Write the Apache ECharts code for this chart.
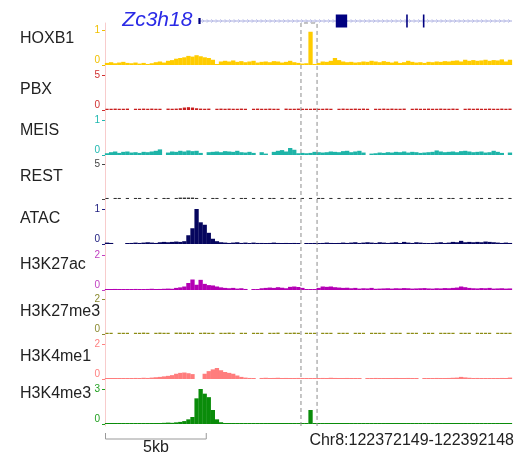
<!DOCTYPE html>
<html><head><meta charset="utf-8">
<script src="https://cdn.jsdelivr.net/npm/echarts@6/dist/echarts.min.js"></script>
<style>html,body{margin:0;padding:0;background:#fff}#c{width:524px;height:454px}</style>
</head><body><div id="c"></div>
<script>
// ---- data ----
const regionStart = 0, regionEnd = 20000, binSize = 200;
const chromLabel = 'Chr8:122372149-122392148';
const scaleBar = [0, 5000];
const scaleLabel = '5kb';
const geneName = 'Zc3h18';
const geneSpan = [4590, 20000];
const exons = [[4590, 4700, 'utr'], [11340, 11900, 'cds'], [14800, 14850, 'cds'], [15620, 15670, 'cds']];
const highlightRegion = [9630, 10420];

const trackNames = ['HOXB1', 'PBX', 'MEIS', 'REST', 'ATAC', 'H3K27ac', 'H3K27me3', 'H3K4me1', 'H3K4me3'];
const trackMax = [1, 5, 1, 5, 1, 2, 2, 2, 3];

const hoxb1 = [0.06,0.08,0.05,0.07,0.09,0.06,0.05,0.07,0.04,0.06,
  0.03,0.05,0.08,0.1,0.07,0.12,0.14,0.18,0.2,0.22,
  0.26,0.24,0.28,0.25,0.22,0.2,0.15,0.02,0.1,0.12,
  0.1,0.13,0.09,0.11,0.08,0.1,0.12,0.07,0.09,0.1,
  0.08,0.11,0.1,0.07,0.09,0.12,0.08,0.06,0.04,0.05,
  0.95,0.03,0.06,0.1,0.09,0.12,0.2,0.14,0.1,0.08,
  0.09,0.07,0.08,0.1,0.09,0.12,0.1,0.08,0.11,0.09,
  0.07,0.1,0.06,0.08,0.12,0.09,0.07,0.08,0.06,0.09,
  0.08,0.1,0.09,0.11,0.1,0.12,0.13,0.1,0.15,0.12,
  0.14,0.12,0.13,0.15,0.12,0.14,0.13,0.16,0.1,0.15];
const pbx = [0.18,0.18,0.2,0.18,0.18,0.2,null,0.18,0.18,0.2,
  0.18,0.2,0.18,0.18,null,0.2,0.18,0.2,0.25,0.35,
  0.4,0.35,0.25,0.2,0.18,0.2,null,0.18,0.2,0.18,
  0.2,0.18,0.18,0.2,0.18,null,0.18,0.2,0.18,0.18,
  0.2,0.18,0.18,null,0.2,0.18,0.18,0.2,0.18,0.18,
  0.18,0.2,0.18,0.18,0.2,0.18,null,0.18,0.2,0.18,
  0.18,0.2,0.18,0.2,0.18,null,0.18,0.18,0.2,0.18,
  0.2,0.18,0.18,0.2,null,0.18,0.2,0.18,0.18,0.2,
  0.18,0.18,0.2,0.18,0.18,0.2,0.18,null,0.18,0.2,
  0.18,0.2,0.18,0.18,0.2,0.18,0.18,0.2,0.18,0.2];
const meis = [0.05,0.08,0.1,0.06,0.09,0.1,0.07,0.08,0.06,0.09,
  0.08,0.1,0.12,0.16,null,0.07,0.1,0.09,0.12,0.1,
  0.13,0.11,0.12,0.06,null,0.08,0.09,0.1,0.08,0.11,
  0.1,0.09,0.12,0.08,0.07,0.09,0.06,null,0.08,0.04,
  null,0.09,0.12,0.14,0.1,0.2,0.15,0.05,0.06,0.05,
  0.06,0.09,0.08,0.07,0.08,0.1,0.09,0.08,0.11,0.12,
  0.08,0.1,0.12,0.07,null,0.04,0.05,0.07,0.06,0.08,
  0.07,0.09,0.08,0.1,0.07,0.09,0.08,0.06,0.07,0.08,
  0.09,0.13,0.1,0.08,0.09,0.1,0.08,0.11,0.12,0.1,
  0.08,0.09,0.1,0.07,0.08,0.12,0.09,0.06,null,0.07];
const rest = [0.15,null,0.15,0.15,null,0.15,null,0.15,0.15,null,
  0.15,null,0.15,null,0.15,0.15,null,0.15,0.2,0.2,
  0.2,0.2,0.15,null,0.15,null,0.15,0.15,null,0.15,
  null,0.15,null,0.15,0.15,null,0.15,null,0.15,null,
  0.15,0.15,null,0.15,null,0.15,0.15,null,0.15,null,
  0.15,null,0.15,0.15,null,0.15,null,0.15,null,0.15,
  0.15,null,0.15,null,0.15,0.15,null,0.15,null,0.15,
  null,0.15,0.15,null,0.15,null,0.15,0.15,null,0.15,
  0.15,null,0.15,null,0.15,0.15,null,0.15,null,0.15,
  null,0.15,0.15,null,0.15,null,0.15,0.15,null,0.15];
const atac = [0.04,0.03,null,null,null,0.02,0.03,0.04,0.03,0.04,
  0.05,0.04,0.03,0.05,0.06,0.05,0.06,0.07,0.06,0.08,
  0.25,0.45,1.05,0.62,0.55,0.32,0.15,0.08,0.05,0.04,
  0.03,0.04,0.05,0.03,0.04,0.02,0.04,0.03,0.03,0.02,
  0.03,0.04,0.03,0.02,0.03,0.02,0.03,0.02,null,0.02,
  0.02,0.03,0.02,0.03,0.04,0.03,0.02,0.03,0.04,0.03,
  0.04,0.05,0.03,0.04,0.05,0.04,0.03,0.05,0.04,0.03,
  0.04,0.05,0.03,0.06,0.04,0.03,0.05,0.04,0.03,0.02,
  0.03,0.04,0.05,0.03,0.04,0.06,0.05,0.09,0.05,0.06,
  0.05,0.06,0.05,0.07,0.06,0.05,0.04,0.03,0.04,0.03];
const h3k27ac = [0.05,0.04,0.06,0.03,0.05,0.04,0.05,0.06,0.04,0.05,
  0.06,0.07,0.05,0.06,0.07,0.08,0.07,0.12,0.15,0.2,
  0.4,0.6,0.3,0.58,0.35,0.28,0.26,0.2,0.15,0.12,
  0.1,0.12,0.08,0.1,0.06,null,0.04,0.05,0.1,0.12,
  0.14,0.12,0.16,0.13,0.1,0.18,0.2,0.17,0.12,0.03,
  0.02,0.04,0.12,0.2,0.18,0.2,0.16,0.14,0.12,0.13,
  0.1,0.12,0.08,0.1,0.09,0.12,0.07,0.08,0.09,0.1,
  0.08,0.1,0.09,0.11,0.1,0.08,0.09,0.1,0.11,0.09,
  0.08,0.1,0.09,0.11,0.1,0.12,0.14,0.2,0.16,0.12,
  0.1,0.09,0.11,0.1,0.12,0.08,0.09,0.1,0.08,0.09];
const h3k27me3 = [0.07,0.07,null,0.07,0.07,0.07,null,0.07,0.07,0.08,
  0.07,null,0.07,0.08,0.07,0.07,null,0.08,0.08,0.07,
  0.08,0.07,null,0.07,0.08,0.07,0.07,null,0.07,0.07,
  0.08,0.07,null,0.07,0.07,null,0.07,0.07,0.07,null,
  0.07,0.07,0.08,null,0.07,0.07,0.08,0.07,null,0.07,
  0.07,0.07,null,0.07,0.07,0.07,null,0.07,0.07,0.07,
  null,0.07,0.07,0.07,null,0.07,0.07,0.07,0.07,null,
  0.07,0.07,0.07,null,0.07,0.07,0.07,null,0.07,0.07,
  0.07,null,0.07,0.07,0.07,0.07,null,0.07,0.07,0.07,
  null,0.07,0.07,0.07,0.07,null,0.07,0.07,0.07,0.07];
const h3k4me1 = [0.04,0.03,0.05,0.04,0.03,0.05,0.04,0.06,0.05,0.07,
  0.06,0.08,0.1,0.12,0.15,0.18,0.22,0.3,0.35,0.37,
  0.33,0.28,null,null,0.3,0.45,0.55,0.63,0.5,0.4,
  0.35,0.3,0.2,0.12,0.08,0.06,0.05,null,0.06,0.07,
  0.05,0.06,0.07,0.05,0.06,0.05,0.04,0.06,0.05,0.04,
  0.03,0.04,0.05,0.06,0.05,0.07,0.06,0.05,0.04,0.06,
  0.05,0.04,0.03,null,0.05,0.04,0.06,0.05,0.04,0.05,
  0.04,0.06,0.05,0.04,0.06,0.05,0.04,null,0.05,0.04,
  0.05,0.06,0.04,0.05,0.06,0.07,0.08,0.12,0.09,0.07,
  0.05,0.06,0.04,0.05,0.03,0.05,0.04,0.06,0.05,0.08];
const h3k4me3 = [0.08,0.06,0.05,0.07,0.06,0.05,0.04,0.06,0.05,0.07,
  0.06,0.05,0.07,0.08,0.1,0.12,0.1,0.14,0.18,0.25,
  0.4,0.6,2.2,3.0,2.6,2.3,1.2,0.4,0.15,0.08,
  0.06,0.05,0.07,0.06,0.05,0.06,0.05,0.04,0.06,0.05,
  0.04,0.05,0.06,0.05,0.04,0.06,0.05,0.04,0.03,0.02,
  1.2,0.02,0.04,0.05,0.06,0.05,0.04,0.05,0.06,0.05,
  0.05,0.06,0.05,0.07,0.06,0.05,0.06,0.05,0.07,0.06,
  0.06,0.05,0.07,0.06,0.05,0.08,0.06,0.05,0.06,0.05,
  0.05,0.06,0.05,0.07,0.06,0.05,0.06,0.07,0.05,0.06,
  0.05,0.06,0.07,0.05,0.06,0.05,0.06,0.05,0.06,0.07];
const trackData = [hoxb1, pbx, meis, rest, atac, h3k27ac, h3k27me3, h3k4me1, h3k4me3];

// ---- style / layout ----
const FONT = '"Liberation Sans", Arial, sans-serif';
const fillColors = ['#ffcc00', '#c81e1e', '#1eb4a8', '#333333', '#06065e', '#b400b4', '#8c8c14', '#ff7d7d', '#0a8c0a'];
const labelColors = ['#f0c000', '#d03030', '#20b8b0', '#444444', '#202080', '#c040c0', '#8a8a30', '#ff8080', '#20a020'];
const showZeroLabel = [true, true, true, false, true, true, true, true, true];
const thinTrack = [false, true, false, true, false, false, true, false, false];
const trackTops = [30, 75, 120, 164, 209, 255, 299, 344, 389];
const trackHeight = 35;
const nameCenters = [38.5, 90, 130.5, 176.5, 219, 265, 311.5, 357, 393.5];
const plotLeft = 105, plotWidth = 407;

const grids = [], xAxes = [], yAxes = [], series = [];
function addGrid(top, height) {
  grids.push({ left: plotLeft, width: plotWidth, top: top, height: height });
  const gi = grids.length - 1;
  xAxes.push({ gridIndex: gi, type: 'value', min: regionStart, max: regionEnd, show: false });
  return gi;
}

trackNames.forEach((name, k) => {
  const gi = addGrid(trackTops[k], trackHeight);
  const M = trackMax[k];
  yAxes.push({
    gridIndex: gi, type: 'value', min: 0, max: M, interval: M,
    splitLine: { show: false },
    axisLine: { show: false },
    axisTick: { show: true, length: 3, lineStyle: { color: labelColors[k], width: 1 } },
    axisLabel: {
      margin: 5, fontSize: 10, fontFamily: FONT, color: labelColors[k],
      formatter: v => v === 0 ? (showZeroLabel[k] ? '{z|0}' : '') : '{t|' + v + '}',
      rich: {
        z: { fontSize: 10, fontFamily: FONT, color: labelColors[k], padding: [0, 0, 9, 0] },
        t: { fontSize: 10, fontFamily: FONT, color: labelColors[k] }
      }
    }
  });
  series.push({
    type: 'bar', xAxisIndex: gi, yAxisIndex: gi,
    data: trackData[k].map((v, i) => [regionStart + i * binSize + binSize / 2, v == null ? '-' : v]),
    barWidth: thinTrack[k] ? 3.2 : 4.3, barMinHeight: 1,
    itemStyle: { color: fillColors[k] },
    silent: true, animation: false
  });
});

// gene track
const gGene = addGrid(8, 26);
yAxes.push({ gridIndex: gGene, type: 'value', min: 0, max: 1, show: false });
const exonHalf = { utr: 3, cds: 6.5 };
series.push({
  type: 'custom', xAxisIndex: gGene, yAxisIndex: gGene, animation: false, silent: true,
  data: [geneSpan],
  renderItem: (params, api) => {
    const p0 = api.coord([api.value(0), 0.5]);
    const p1 = api.coord([api.value(1), 0.5]);
    const y = p0[1];
    const children = [];
    children.push({ type: 'line', shape: { x1: p0[0], y1: y, x2: p1[0], y2: y }, style: { stroke: '#a6aade', lineWidth: 1 } });
    for (let x = p0[0] + 5; x < p1[0] - 1; x += 4.5) {
      children.push({ type: 'polyline', shape: { points: [[x - 1.2, y - 1.8], [x + 0.6, y], [x - 1.2, y + 1.8]] }, style: { stroke: '#b4b8e6', lineWidth: 0.8, fill: null } });
    }
    exons.forEach(e => {
      const a = api.coord([e[0], 0.5])[0], b = api.coord([e[1], 0.5])[0];
      const h = exonHalf[e[2]];
      const w = Math.max(b - a, 1.6);
      children.push({ type: 'rect', shape: { x: a, y: y - h, width: w, height: 2 * h }, style: { fill: '#000080' } });
    });
    children.push({ type: 'text', style: { x: p0[0] - 6, y: y - 1, text: geneName, align: 'right', verticalAlign: 'middle', font: 'italic 21px ' + FONT, fill: '#2a2ae6' } });
    return { type: 'group', children: children };
  }
});

// overlay (left axis line + highlight box)
const gOver = addGrid(23, 403);
yAxes.push({ gridIndex: gOver, type: 'value', min: 0, max: 1,
  axisLine: { show: true, lineStyle: { color: '#f8cccc', width: 1 } },
  axisTick: { show: false }, axisLabel: { show: false }, splitLine: { show: false } });
series.push({
  type: 'custom', xAxisIndex: gOver, yAxisIndex: gOver, animation: false, silent: true, z: 10,
  data: [highlightRegion],
  renderItem: (params, api) => {
    const a = api.coord([api.value(0), 1]), b = api.coord([api.value(1), 0]);
    return { type: 'polyline', shape: { points: [[a[0], b[1]], [a[0], a[1]], [b[0], a[1]], [b[0], b[1]]] },
      style: { stroke: '#8c8c8c', lineWidth: 1, lineDash: [4, 3], fill: null } };
  }
});

// scale bar
const gScale = addGrid(433, 6);
yAxes.push({ gridIndex: gScale, type: 'value', min: 0, max: 1, show: false });
series.push({
  type: 'custom', xAxisIndex: gScale, yAxisIndex: gScale, animation: false, silent: true,
  data: [scaleBar],
  renderItem: (params, api) => {
    const a = api.coord([api.value(0), 1]), b = api.coord([api.value(1), 0]);
    return { type: 'group', children: [
      { type: 'polyline', shape: { points: [[a[0] + 0.5, a[1]], [a[0] + 0.5, b[1]], [b[0] - 0.5, b[1]], [b[0] - 0.5, a[1]]] }, style: { stroke: '#999', lineWidth: 1, fill: null } },
      { type: 'text', style: { x: (a[0] + b[0]) / 2, y: b[1] + 9, text: scaleLabel, align: 'center', verticalAlign: 'middle', font: '16px ' + FONT, fill: '#222' } }
    ] };
  }
});

const graphics = trackNames.map((n, k) => ({
  type: 'text', x: 20, y: nameCenters[k], silent: true,
  style: { text: n, font: '16px ' + FONT, fill: '#222', verticalAlign: 'middle', align: 'left' }
}));
graphics.push({ type: 'text', x: 514, y: 441, silent: true,
  style: { text: chromLabel, font: '16px ' + FONT, fill: '#222', verticalAlign: 'middle', align: 'right' } });

const chart = echarts.init(document.getElementById('c'), null, { renderer: 'canvas' });
chart.setOption({
  animation: false,
  grid: grids, xAxis: xAxes, yAxis: yAxes, series: series, graphic: graphics
});
</script></body></html>
